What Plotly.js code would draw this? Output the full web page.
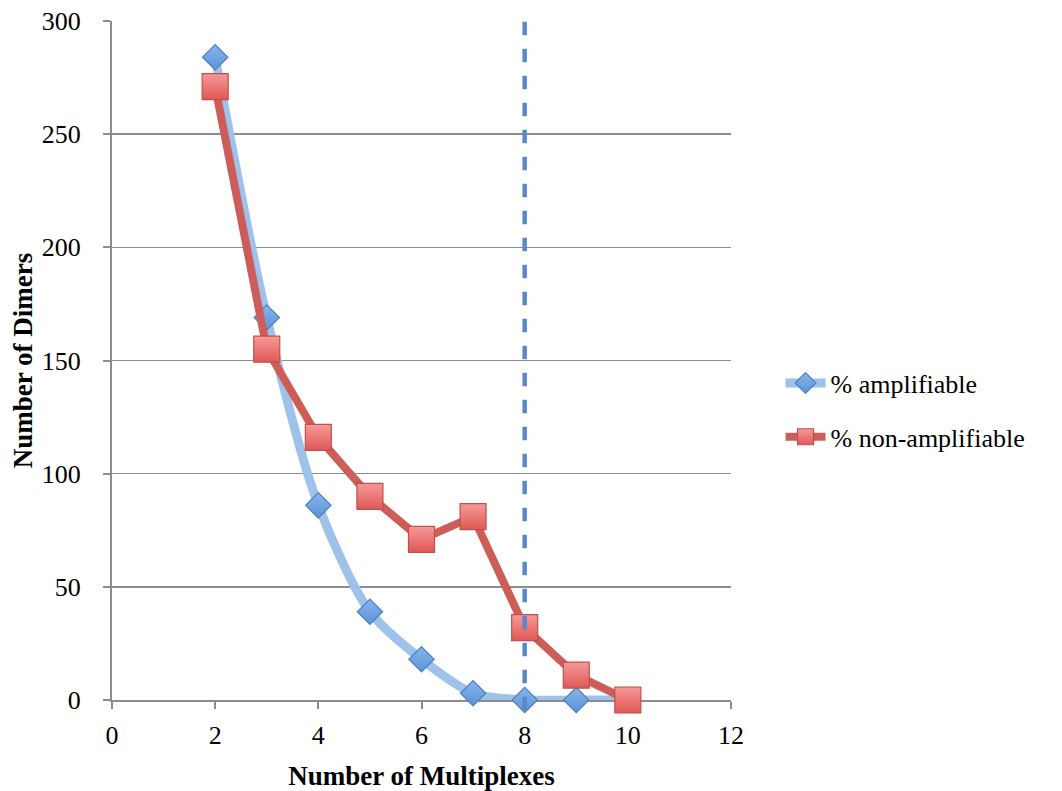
<!DOCTYPE html>
<html>
<head>
<meta charset="utf-8">
<script src="https://cdn.plot.ly/plotly-3.0.1.min.js"></script>
<style>
  html, body { margin: 0; padding: 0; background: #ffffff; }
  #chart { width: 1062px; height: 791px; }
</style>
</head>
<body>
<div id="chart"></div>
<script>
// Multiplex size vs. number of primer dimers
const multiplexes = [2, 3, 4, 5, 6, 7, 8, 9, 10];
const amplifiable = [284, 169, 86, 39, 18, 3, 0, 0, 0];
const nonAmplifiable = [271, 155, 116, 90, 71, 81, 32, 11, 0];
const cutoff = 8;
const xTicks = [0, 2, 4, 6, 8, 10, 12];
const yTicks = [0, 50, 100, 150, 200, 250, 300];

const serif = '"Liberation Serif", "DejaVu Serif", serif';

const traces = [
  {
    x: multiplexes,
    y: amplifiable,
    name: '% amplifiable',
    legendgroup: 'amp',
    type: 'scatter',
    mode: 'lines+markers',
    cliponaxis: false,
    line: { color: '#9fc2ea', width: 9, shape: 'spline', smoothing: 0.8 },
    marker: {
      symbol: 'diamond',
      size: 19.5,
      color: '#86b5ec',
      gradient: { type: 'vertical', color: '#5c93d6' },
      line: { color: '#4f81bd', width: 1.2 }
    }
  },
  {
    x: multiplexes,
    y: nonAmplifiable,
    name: '% non-amplifiable',
    legendgroup: 'nonamp',
    type: 'scatter',
    mode: 'lines+markers',
    cliponaxis: false,
    line: { color: '#cd5d59', width: 8 },
    marker: {
      symbol: 'square',
      size: 26,
      color: '#f59a98',
      gradient: { type: 'vertical', color: '#e05854' },
      line: { color: '#c0504d', width: 1.2 }
    }
  }
];

const layout = {
  width: 1062,
  height: 791,
  paper_bgcolor: '#ffffff',
  plot_bgcolor: '#ffffff',
  margin: { l: 112, r: 331, t: 21, b: 91 },
  showlegend: true,
  legend: {
    x: 1.08, y: 0.427, xanchor: 'left', yanchor: 'middle',
    font: { family: serif, size: 26, color: '#000000' },
    traceorder: 'grouped',
    tracegroupgap: 17,
    itemwidth: 40,
    bgcolor: 'rgba(0,0,0,0)'
  },
  xaxis: {
    range: [0, 12],
    tickvals: xTicks,
    ticktext: xTicks.map(String),
    layer: 'below traces',
    showgrid: false,
    zeroline: false,
    showline: true,
    linecolor: '#8c8c8c',
    linewidth: 2,
    ticks: 'outside',
    ticklen: 7,
    tickwidth: 2,
    tickcolor: '#8c8c8c',
    ticklabelstandoff: 4,
    tickfont: { family: serif, size: 26, color: '#000000' },
    title: { text: '<b>Number of Multiplexes</b>', font: { family: serif, size: 27, color: '#000000' }, standoff: 20 }
  },
  yaxis: {
    range: [0, 300],
    tickvals: yTicks,
    ticktext: yTicks.map(String),
    layer: 'below traces',
    showgrid: true,
    gridcolor: '#8c8c8c',
    gridwidth: 1.5,
    zeroline: false,
    showline: true,
    linecolor: '#8c8c8c',
    linewidth: 2,
    ticks: 'outside',
    ticklen: 7,
    tickwidth: 2,
    tickcolor: '#8c8c8c',
    ticklabelstandoff: 17,
    tickfont: { family: serif, size: 26, color: '#000000' },
    title: { text: '<b>Number of Dimers</b>', font: { family: serif, size: 27, color: '#000000' }, standoff: 1 }
  },
  shapes: [
    {
      // cut-off at 8-plex
      type: 'line',
      xref: 'x', yref: 'paper',
      x0: cutoff, x1: cutoff, y0: -0.015, y1: 1.015,
      line: { color: '#5a8ac6', width: 4.5, dash: 'dash' },
      layer: 'above'
    }
  ]
};

Plotly.newPlot('chart', traces, layout, { displayModeBar: false, staticPlot: true });
</script>
</body>
</html>
